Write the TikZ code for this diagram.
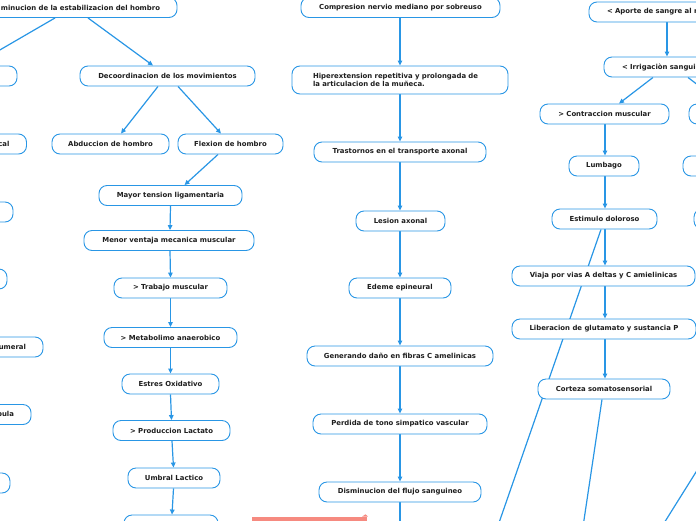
\documentclass[tikz,border=0pt]{standalone}
\usepackage{fontspec}
\setmainfont{DejaVu Sans}
\usetikzlibrary{arrows.meta}
\definecolor{mblue}{RGB}{41,150,229}
\definecolor{mtext}{RGB}{30,30,30}
\definecolor{msalmon}{RGB}{246,138,128}
\pgfdeclarelayer{bg}
\pgfsetlayers{bg,main}
\begin{document}
\begin{tikzpicture}[x=1pt,y=-1pt,
  box/.style={draw=mblue, line width=0.9pt, fill=white, rounded corners=8pt,
    minimum height=20pt, inner ysep=1pt, inner xsep=2pt,
    font=\fontsize{6.9}{8}\selectfont\bfseries, text=mtext},
  bw/.style={minimum width=#1},
  rbox/.style={box, text width=#1, align=right, inner xsep=17pt},
  lbox/.style={box, text width=#1, align=left, inner xsep=18pt},
  conn/.style={draw=mblue, line width=1.2pt, -{Triangle[length=5pt,width=4.5pt]}},
  plain/.style={draw=mblue, line width=1.2pt}
]
\useasboundingbox (0,0) rectangle (696,520);
\clip (0,0) rectangle (696,520);

% ---- left column ----
\node[rbox=173pt] (top) at (73.5,7.5) {minucion de la estabilizacion del hombro};
\node[box,bw=120pt] (l1) at (-43,76) {};
\node[box,bw=175pt] (deco) at (167.5,76) {Decoordinacion de los movimientos};
\node[rbox=86pt] (l2) at (-33.5,144) {cal};
\node[box,bw=117pt] (abd) at (110.5,144) {Abduccion de hombro};
\node[box,bw=105pt] (flex) at (230.5,144) {Flexion de hombro};
\node[box,bw=120pt] (l3) at (-47,212) {};
\node[box,bw=120pt] (l4) at (-53,279) {};
\node[rbox=86pt] (l5) at (-17,347) {umeral};
\node[rbox=86pt] (l6) at (-29,414.5) {pula};
\node[box,bw=120pt] (l7) at (-50,483) {};
\node[box,bw=143pt] (mayor) at (170.5,195.5) {Mayor tension ligamentaria};
\node[box,bw=170pt] (menor) at (169,240.5) {Menor ventaja mecanica muscular};
\node[box,bw=113pt] (trab) at (170.5,288) {> Trabajo muscular};
\node[box,bw=133pt] (meta) at (170.5,337.5) {> Metabolimo anaerobico};
\node[box,bw=97pt] (estr) at (170.5,384) {Estres Oxidativo};
\node[box,bw=117pt] (prod) at (171.5,430.5) {> Produccion Lactato};
\node[box,bw=92pt] (umb) at (174,478) {Umbral Lactico};
\node[box,bw=94pt] (bot) at (171,525) {};

% ---- middle column ----
\node[box,bw=199pt] (comp) at (400.5,7.5) {Compresion nervio mediano por sobreuso};
\node[box, minimum height=28pt, text width=174pt, align=left, inner xsep=21pt] (hip) at (400,80)
  {\mbox{Hiperextension repetitiva y prolongada de}\\la articulacion de la muñeca.};
\node[box,bw=172pt] (tras) at (400,152) {Trastornos en el transporte axonal};
\node[box,bw=89pt] (les) at (400.5,221) {Lesion axonal};
\node[box,bw=102pt] (ede) at (400,288) {Edeme epineural};
\node[box,bw=186pt] (gen) at (400,356) {Generando daño en fibras C amelinicas};
\node[box,bw=174pt] (perd) at (400,424) {Perdida de tono simpatico vascular};
\node[box,bw=162pt] (dism) at (400,492) {Disminucion del flujo sanguineo};
\coordinate (dismend) at (400,530);

% ---- right column ----
\node[lbox=164pt] (apo) at (689,12) {< Aporte de sangre al m};
\node[lbox=164pt] (irr) at (704,67) {< Irrigaciòn sangui};
\node[box,bw=129pt] (contr) at (604.5,114) {> Contraccion muscular};
\node[box,bw=200pt] (r1) at (789,114) {};
\node[box,bw=70pt] (lum) at (604,166) {Lumbago};
\node[box,bw=200pt] (r2) at (783,166) {};
\node[box,bw=105pt] (est) at (604.5,219) {Estimulo doloroso};
\node[box,bw=200pt] (r3) at (794,219) {};
\node[box,bw=183pt] (via) at (603.5,276) {Viaja por vias A deltas y C amielinicas};
\node[box,bw=184pt] (lib) at (604,329) {Liberacion de glutamato y sustancia P};
\node[box,bw=132pt] (cor) at (604,389) {Corteza somatosensorial};
\coordinate (estend) at (493,540);
\coordinate (corend) at (581,540);
\coordinate (ra) at (700.4,465);
\coordinate (rb) at (661.6,527);

% salmon shape at the bottom
\fill[msalmon] (252,516.5) rectangle (367,525);
\fill[msalmon] (362,516.6) -- (365.5,514.3) -- (368,516.6) -- cycle;

\begin{pgfonlayer}{bg}
% left column connectors
\draw[conn] ([xshift=-18.5pt]top.south) -- ([xshift=16pt]l1.north);
\draw[conn] ([xshift=14.5pt]top.south) -- ([xshift=-14.5pt]deco.north);
\draw[conn] ([xshift=-9.5pt]deco.south) -- ([xshift=10.5pt]abd.north);
\draw[conn] ([xshift=10.5pt]deco.south) -- ([xshift=-9.5pt]flex.north);
\draw[conn] ([xshift=-12.5pt]flex.south) -- ([xshift=14pt]mayor.north);
\draw[conn] (mayor.south) -- ([xshift=1pt]menor.north);
\draw[conn] ([xshift=1pt]menor.south) -- (trab.north);
\draw[conn] (trab.south) -- (meta.north);
\draw[conn] (meta.south) -- (estr.north);
\draw[conn] (estr.south) -- (prod.north);
\draw[conn] ([xshift=0.5pt]prod.south) -- ([xshift=-0.5pt]umb.north);
\draw[conn] ([xshift=-0.5pt]umb.south) -- ([xshift=1pt]bot.north);
% middle column connectors
\draw[conn] ([xshift=-0.5pt]comp.south) -- (hip.north);
\draw[conn] (hip.south) -- (tras.north);
\draw[conn] (tras.south) -- ([xshift=-0.5pt]les.north);
\draw[conn] ([xshift=-0.5pt]les.south) -- (ede.north);
\draw[conn] (ede.south) -- (gen.north);
\draw[conn] (gen.south) -- (perd.north);
\draw[conn] (perd.south) -- (dism.north);
\draw[plain] (dism.south) -- (dismend);
% right column connectors
\draw[conn] ([xshift=-22pt]apo.south) -- ([xshift=-37pt]irr.north);
\draw[conn] ([xshift=-51pt]irr.south) -- ([xshift=14.5pt]contr.north);
\draw[conn] ([xshift=-16pt]irr.south) -- ([xshift=-67pt]r1.north);
\draw[conn] ([xshift=0.5pt]contr.south) -- ([xshift=1pt]lum.north);
\draw[conn] ([xshift=1pt]lum.south) -- ([xshift=0.5pt]est.north);
\draw[conn] ([xshift=0.5pt]est.south) -- ([xshift=1.5pt]via.north);
\draw[conn] ([xshift=1.5pt]via.south) -- ([xshift=1pt]lib.north);
\draw[conn] ([xshift=1pt]lib.south) -- ([xshift=1pt]cor.north);
\draw[plain] ([xshift=-3.5pt]est.south) -- (estend);
\draw[plain] ([xshift=-2pt]cor.south) -- (corend);
\draw[plain] (ra) -- (rb);
\end{pgfonlayer}
\end{tikzpicture}
\end{document}
